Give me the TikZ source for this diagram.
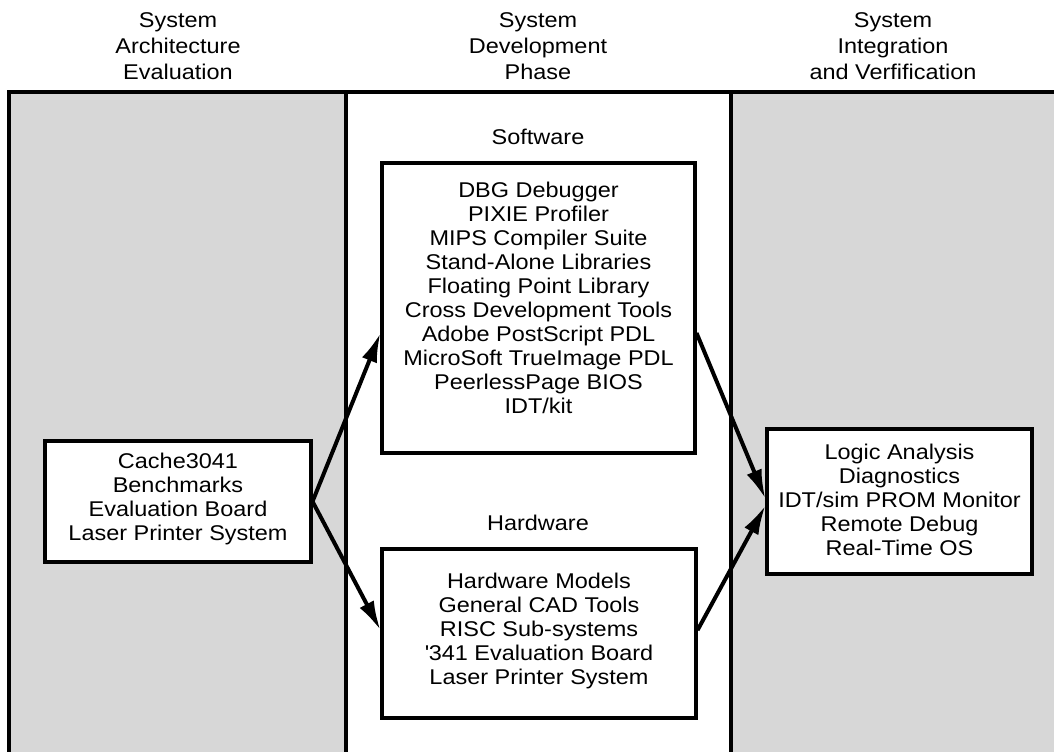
\documentclass[tikz,border=0pt]{standalone}
\usepackage{fontspec}
\setmainfont{Liberation Sans}[FakeStretch=1.1]
\usetikzlibrary{arrows.meta,calc}
\definecolor{bgdots}{RGB}{215,215,215}
\begin{document}
\begin{tikzpicture}[x=0.75pt,y=-0.75pt,
  txt/.style={font=\fontsize{16}{18}\selectfont,align=center,inner sep=0pt},
  hdr/.style={font=\fontsize{16}{19.5}\selectfont,align=center,inner sep=0pt},
  box/.style={draw,line width=2.3pt,fill=white,inner sep=0pt},
  arr/.style={line width=3pt,-{Latex[length=22pt,width=12pt]}}
]
\useasboundingbox (0,0) rectangle (1054,752);
\fill[white] (0,0) rectangle (1054,752);
\fill[bgdots] (9,92) rectangle (346,760);
\fill[bgdots] (731,92) rectangle (1060,760);
\draw[line width=2.6pt] (9,760) -- (9,92) -- (1060,92);
\draw[line width=2.6pt] (346,92) -- (346,760);
\draw[line width=2.6pt] (731,92) -- (731,760);

\node[hdr] (h1) at (178,46) {System\\Architecture\\Evaluation};
\node[hdr] (h2) at (538,46) {System\\Development\\Phase};
\node[hdr] (h3) at (893,46) {System\\Integration\\and Verfification};

\node[txt] (swl) at (538,137) {Software};
\node[txt] (hwl) at (538,523) {Hardware};

\node[box,minimum width=199.5pt,minimum height=90.75pt] (lb) at (178,501.5) {};
\node[txt] (lbt) at (178,499) {Cache3041\\Benchmarks\\Evaluation Board\\Laser Printer System};

\node[box,minimum width=234.75pt,minimum height=217.5pt] (sw) at (538.5,308) {};
\node[txt] (swt) at (538.5,298) {DBG Debugger\\PIXIE Profiler\\MIPS Compiler Suite\\Stand-Alone Libraries\\Floating Point Library\\Cross Development Tools\\Adobe PostScript PDL\\MicroSoft TrueImage PDL\\PeerlessPage BIOS\\IDT/kit};

\node[box,minimum width=235.5pt,minimum height=126.75pt] (hw) at (539,633.5) {};
\node[txt] (hwt) at (539,631) {Hardware Models\\General CAD Tools\\RISC Sub-systems\\\textquotesingle341 Evaluation Board\\Laser Printer System};

\node[box,minimum width=198.75pt,minimum height=108.75pt] (rb) at (899.5,501.5) {};
\node[txt] (rbt) at (899.5,499.5) {Logic Analysis\\Diagnostics\\IDT/sim PROM Monitor\\Remote Debug\\Real-Time OS};

\draw[arr] (lb.east) -- ([yshift=-18.75pt]sw.west);
\draw[arr] (lb.east) -- ([yshift=2.5pt]hw.west);
\draw[arr] ([yshift=-18.75pt]sw.east) -- ([yshift=2pt]rb.west);
\draw[arr] ([yshift=2.5pt]hw.east) -- ([yshift=-3pt]rb.west);
\end{tikzpicture}
\end{document}
